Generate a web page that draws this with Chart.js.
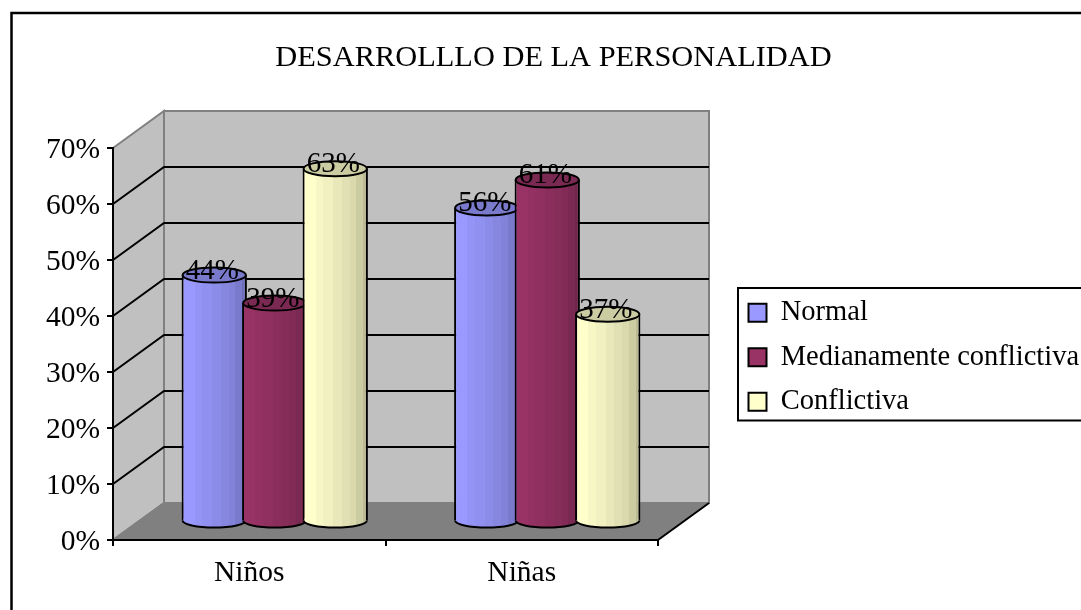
<!DOCTYPE html>
<html>
<head>
<meta charset="utf-8">
<style>html,body{margin:0;padding:0;background:#fff}canvas{display:block}</style>
<script src="https://cdn.jsdelivr.net/npm/chart.js@4"></script>
</head>
<body>
<canvas id="c" width="1081" height="610"></canvas>
<script>
const categories = ['Niños', 'Niñas'];
const seriesNames = ['Normal', 'Medianamente conflictiva', 'Conflictiva'];
const normal = [44, 56];
const medianamente = [39, 61];
const conflictiva = [63, 37];
const colors = ['#9999ff', '#993366', '#ffffcc'];
const FONT = '"Liberation Serif"';
const DX = 51, DY = 37;

function shade(hex, f) {
  const n = parseInt(hex.slice(1), 16);
  const c = s => Math.round(((n >> s) & 255) * f);
  return `rgb(${c(16)},${c(8)},${c(0)})`;
}
const bandEdges = [0, .2, .32, .47, .6, .72, .82, .93, 1];
const bandShade = [1, .97, .94, .91, .88, .85, .80, .73];

const cylinders = {
  id: 'cylinders',
  beforeUpdate(chart) {
    if (chart.$wrapped) return;
    chart.$wrapped = true;
    const lg = chart.legend, fit = lg.fit, ld = lg.draw;
    lg.fit = function () { fit.call(this); this.width = 423; };
    lg.draw = function (a) {
      const h = this.legendHitBoxes[0], c = this.ctx;
      c.save();
      c.translate(748.5 - h.left, 312.5 - (h.top + 14));
      ld.call(this, a);
      c.restore();
    };
    const t = chart.titleBlock, td = t.draw;
    t.draw = function (a) {
      const c = this.ctx;
      c.save(); c.translate(13, 0); td.call(this, a); c.restore();
    };
  },
  beforeDraw(chart) {
    const { ctx, chartArea: a, scales: { y } } = chart;
    const L = a.left, R = a.right, T = a.top, B = a.bottom;
    ctx.save();
    // outer frame
    ctx.strokeStyle = '#000'; ctx.lineWidth = 2.5;
    ctx.beginPath(); ctx.moveTo(11.5, 610); ctx.lineTo(11.5, 13); ctx.lineTo(1081, 13); ctx.stroke();
    // legend frame
    ctx.lineWidth = 2;
    ctx.beginPath(); ctx.moveTo(1081, 288); ctx.lineTo(738, 288); ctx.lineTo(738, 420.5); ctx.lineTo(1081, 420.5); ctx.stroke();
    // walls and floor
    ctx.fillStyle = '#c0c0c0'; ctx.strokeStyle = '#808080'; ctx.lineWidth = 2;
    ctx.beginPath(); ctx.rect(L + DX, T - DY, R - L, B - T); ctx.fill(); ctx.stroke();
    ctx.beginPath(); ctx.moveTo(L, T); ctx.lineTo(L + DX, T - DY); ctx.lineTo(L + DX, B - DY); ctx.lineTo(L, B); ctx.closePath(); ctx.fill(); ctx.stroke();
    ctx.fillStyle = '#808080'; ctx.strokeStyle = '#000';
    ctx.beginPath(); ctx.moveTo(L, B); ctx.lineTo(R, B); ctx.lineTo(R + DX, B - DY); ctx.lineTo(L + DX, B - DY); ctx.closePath(); ctx.fill();
    ctx.beginPath(); ctx.moveTo(R, B); ctx.lineTo(R + DX, B - DY); ctx.stroke();
    ctx.beginPath(); ctx.moveTo(L, B); ctx.lineTo(L + DX, B - DY); ctx.strokeStyle = '#808080'; ctx.stroke();
    // grid lines
    ctx.strokeStyle = '#000'; ctx.lineWidth = 2;
    y.ticks.forEach(t => {
      if (t.value === y.min || t.value === y.max) return;
      const p = y.getPixelForValue(t.value);
      ctx.beginPath(); ctx.moveTo(L, p); ctx.lineTo(L + DX, p - DY); ctx.lineTo(R + DX, p - DY); ctx.stroke();
    });
    ctx.restore();
  },
  beforeDatasetsDraw(chart) {
    const { ctx } = chart;
    // drawn first to last so that each later series overlaps the one before it
    chart.data.datasets.forEach((ds, i) => {
      const meta = chart.getDatasetMeta(i);
      const base = colors[i];
      meta.data.forEach(el => {
        const x0 = el.x - el.width / 2, x1 = el.x + el.width / 2;
        const g = ctx.createLinearGradient(x0, 0, x1, 0);
        bandShade.forEach((f, k) => {
          g.addColorStop(bandEdges[k], shade(base, f));
          g.addColorStop(bandEdges[k + 1], shade(base, f));
        });
        el.options = Object.assign({}, el.options, { backgroundColor: g });
      });
      ctx.save();
      ctx.translate(DX / 2, -DY / 2);
      meta.controller.draw();
      ctx.strokeStyle = '#000'; ctx.lineWidth = 2;
      meta.data.forEach(el => {
        const r = el.width / 2 - 1;
        ctx.fillStyle = el.options.backgroundColor;
        ctx.fillRect(el.x - r + 1, el.base - 2, 2 * r - 2, 3);
        ctx.beginPath(); ctx.ellipse(el.x, el.base, r, 7, 0, 0, Math.PI); ctx.fill(); ctx.stroke();
        ctx.fillStyle = shade(base, .8);
        ctx.beginPath(); ctx.ellipse(el.x, el.y, r, 7.5, 0, 0, Math.PI * 2); ctx.fill(); ctx.stroke();
      });
      ctx.restore();
    });
    ctx.save();
    ctx.fillStyle = '#000';
    ctx.font = `29px ${FONT}`;
    ctx.textAlign = 'center';
    ctx.textBaseline = 'middle';
    chart.data.datasets.forEach((ds, i) => {
      chart.getDatasetMeta(i).data.forEach((el, j) => {
        ctx.fillText(ds.data[j] + '%', el.x + DX / 2 - 2, el.y - DY / 2 - 4);
      });
    });
    ctx.restore();
    return false;
  }
};

const series = [normal, medianamente, conflictiva];
new Chart(document.getElementById('c'), {
  type: 'bar',
  data: {
    labels: categories,
    datasets: series.map((d, i) => ({
      label: seriesNames[i],
      data: d,
      backgroundColor: colors[i],
      borderColor: '#000',
      borderWidth: { left: 2, right: 2, top: 0, bottom: 0 },
      clip: false,
      categoryPercentage: 0.666,
      barPercentage: 1.08
    }))
  },
  plugins: [cylinders],
  options: {
    responsive: false,
    animation: false,
    layout: { autoPadding: false, padding: 0 },
    plugins: {
      tooltip: { enabled: false },
      title: {
        display: true,
        text: 'DESARROLLLO DE LA PERSONALIDAD',
        color: '#000',
        font: { family: FONT, size: 30.4, weight: 'normal', lineHeight: 1.2 },
        padding: { top: 39.5, bottom: 72 }
      },
      legend: {
        position: 'right',
        align: 'center',
        labels: {
          font: { family: FONT, size: 28.5 },
          color: '#000',
          boxWidth: 18,
          boxHeight: 18,
          padding: 16,
          generateLabels: () => seriesNames.map((n, i) => ({
            text: n, fillStyle: colors[i], strokeStyle: '#000', lineWidth: 2, datasetIndex: i, hidden: false
          }))
        }
      }
    },
    scales: {
      x: {
        grid: { drawOnChartArea: false, color: '#000', tickLength: 6, lineWidth: 2 },
        border: { color: '#000', width: 2 },
        ticks: { color: '#000', font: { family: FONT, size: 29.5 }, padding: 10, maxRotation: 0 },
        afterFit(s) { s.height = 70; }
      },
      y: {
        min: 0, max: 70,
        grid: { drawOnChartArea: false, color: '#000', tickLength: 6, lineWidth: 2 },
        border: { color: '#000', width: 2 },
        ticks: { stepSize: 10, color: '#000', font: { family: FONT, size: 29.5 }, padding: 7, labelOffset: 2, callback: v => v + '%' },
        afterFit(s) { s.width = 113; }
      }
    }
  }
});
</script>
</body>
</html>
